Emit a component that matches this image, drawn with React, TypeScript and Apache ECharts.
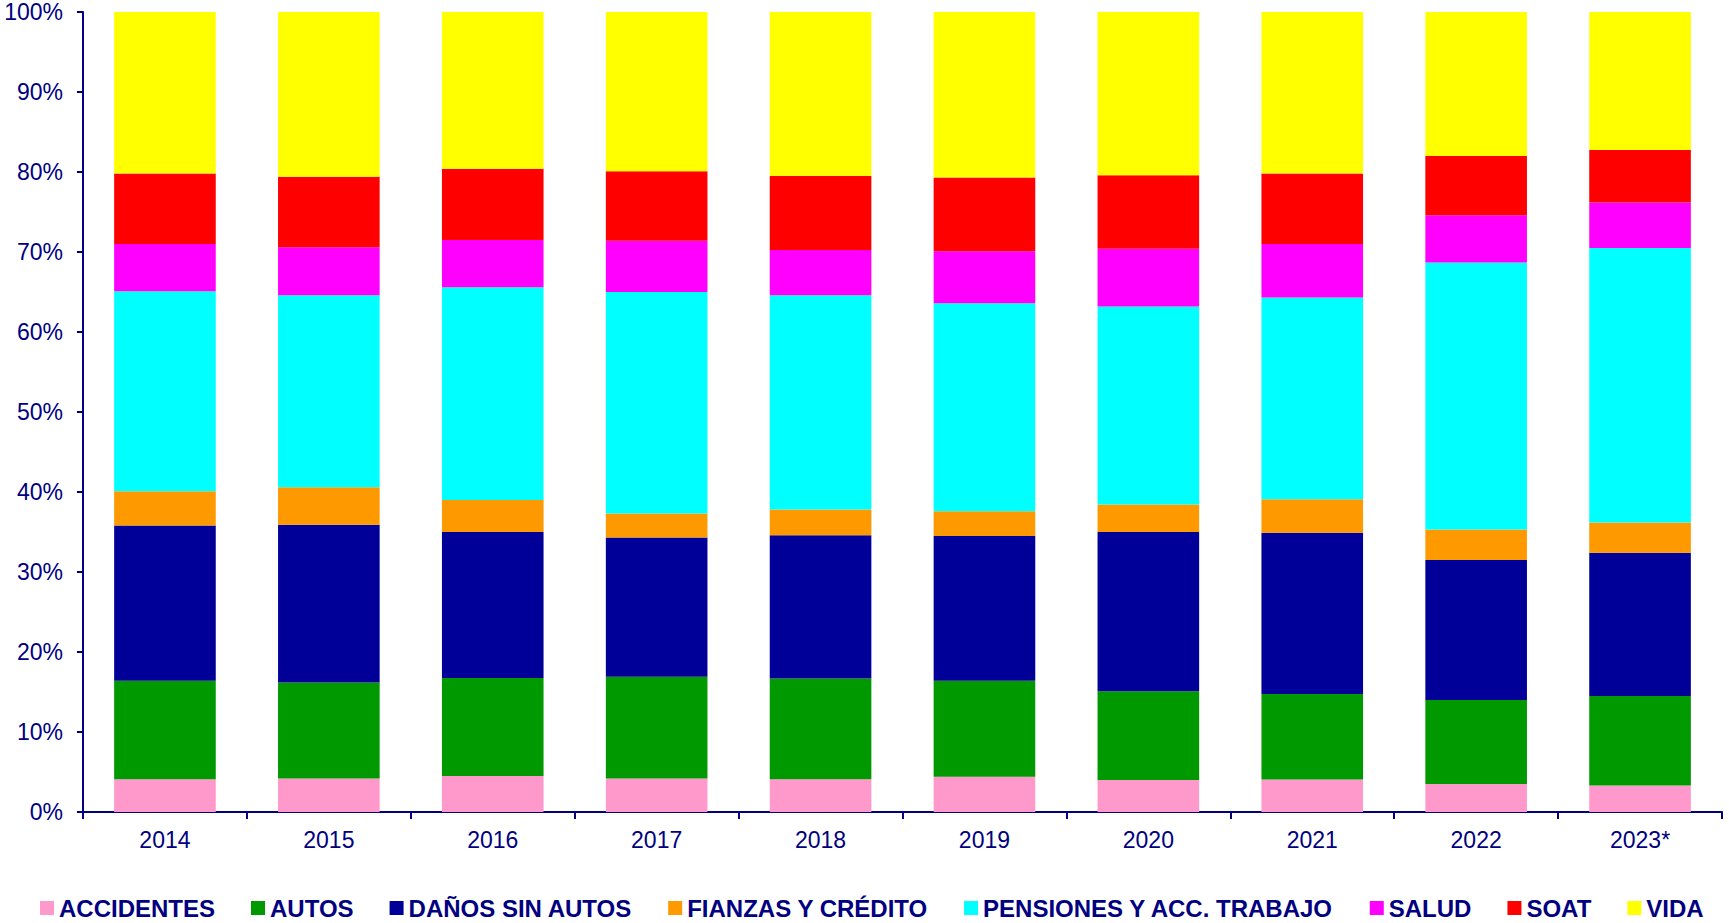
import React, { useEffect, useRef } from "react";
import * as echarts from "echarts";

const categories = ["2014", "2015", "2016", "2017", "2018", "2019", "2020", "2021", "2022", "2023*"];

const accidentes = [4.1, 4.2, 4.5, 4.2, 4.1, 4.4, 4.0, 4.05, 3.5, 3.3];
const autos = [12.3, 12.0, 12.25, 12.7, 12.6, 12.0, 11.1, 10.7, 10.5, 11.2];
const danosSinAutos = [19.4, 19.7, 18.25, 17.4, 17.9, 18.1, 19.9, 20.15, 17.5, 17.9];
const fianzasCredito = [4.3, 4.7, 4.0, 3.0, 3.2, 3.1, 3.45, 4.2, 3.8, 3.8];
const pensiones = [25.0, 24.0, 26.6, 27.7, 26.8, 26.0, 24.75, 25.2, 33.4, 34.3];
const salud = [5.9, 6.0, 5.9, 6.4, 5.65, 6.5, 7.2, 6.7, 5.9, 5.7];
const soat = [8.8, 8.8, 8.9, 8.7, 9.25, 9.2, 9.2, 8.8, 7.4, 6.55];
const vida = [20.2, 20.6, 19.6, 19.9, 20.5, 20.7, 20.4, 20.2, 18.0, 17.25];

const seriesNames = [
  "ACCIDENTES",
  "AUTOS",
  "DAÑOS SIN AUTOS",
  "FIANZAS Y CRÉDITO",
  "PENSIONES Y ACC. TRABAJO",
  "SALUD",
  "SOAT",
  "VIDA",
];
const seriesData = [accidentes, autos, danosSinAutos, fianzasCredito, pensiones, salud, soat, vida];
const seriesColors = ["#FF99CC", "#009900", "#000099", "#FF9900", "#00FFFF", "#FF00FF", "#FF0000", "#FFFF00"];

const NAVY = "#000080";
const FONT = "'Liberation Sans', Arial, sans-serif";

export default function App() {
  const ref = useRef<HTMLDivElement>(null);

  useEffect(() => {
    if (!ref.current) return;
    const chart = echarts.init(ref.current, null, { renderer: "svg" });
    chart.setOption({
      animation: false,
      backgroundColor: "#FFFFFF",
      grid: { left: 83, right: 7, top: 12, bottom: 111, containLabel: false },
      legend: {
        data: seriesNames,
        left: 40,
        top: 896,
        padding: 0,
        itemWidth: 14,
        itemHeight: 14,
        itemGap: 36,
        icon: "rect",
        textStyle: { color: NAVY, fontSize: 24, fontWeight: "bold", fontFamily: FONT },
      },
      xAxis: {
        type: "category",
        data: categories,
        axisLine: { show: true, lineStyle: { color: NAVY, width: 2 } },
        axisTick: { show: true, alignWithLabel: false, length: 7, lineStyle: { color: NAVY, width: 2 } },
        axisLabel: { color: NAVY, fontSize: 23, fontFamily: FONT, margin: 16 },
        splitLine: { show: false },
      },
      yAxis: {
        type: "value",
        min: 0,
        max: 100,
        interval: 10,
        axisLine: { show: true, lineStyle: { color: NAVY, width: 2 } },
        axisTick: { show: true, length: 6, lineStyle: { color: NAVY, width: 2 } },
        axisLabel: { color: NAVY, fontSize: 23, fontFamily: FONT, margin: 20, formatter: "{value}%" },
        splitLine: { show: false },
      },
      series: seriesNames.map((name, i) => ({
        name,
        type: "bar",
        stack: "total",
        data: seriesData[i],
        barCategoryGap: "38%",
        itemStyle: { color: seriesColors[i] },
        emphasis: { disabled: true },
      })),
    });
    return () => chart.dispose();
  }, []);

  return (
    <div
      ref={ref}
      style={{ position: "absolute", left: 0, top: 0, width: 1729, height: 923 }}
    />
  );
}
